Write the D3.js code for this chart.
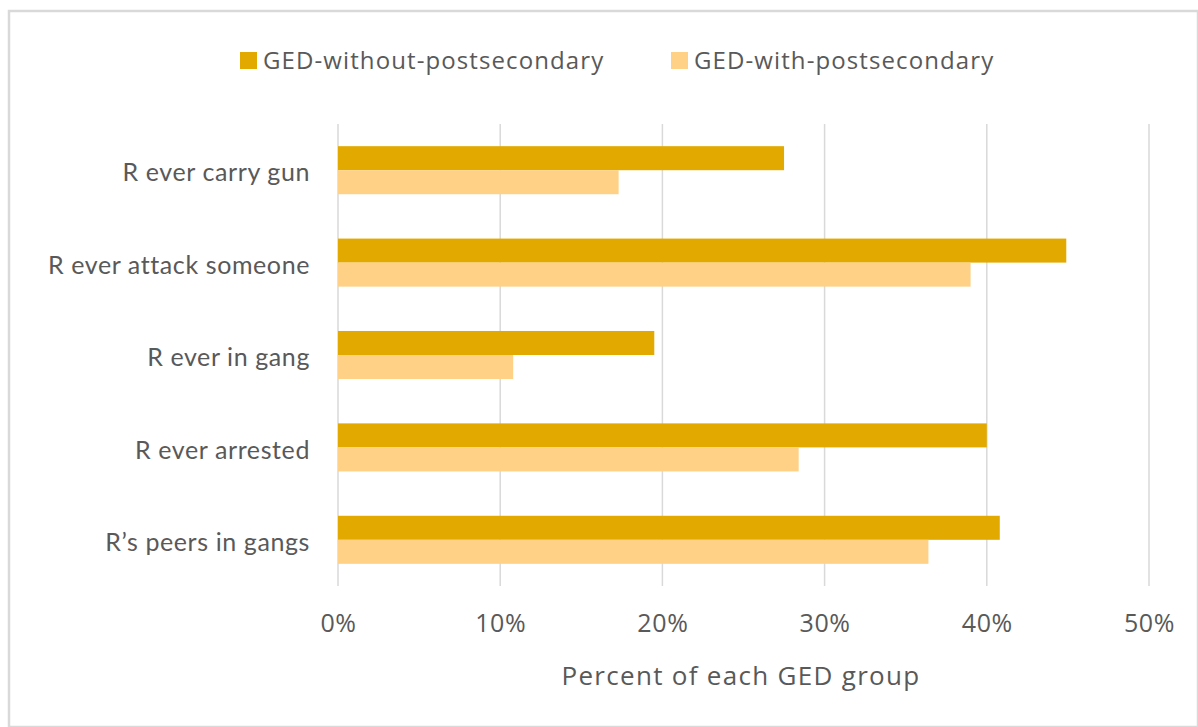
<!DOCTYPE html>
<html>
<head>
<meta charset="utf-8">
<script src="https://cdn.jsdelivr.net/npm/d3@7"></script>
<style>
  body { margin: 0; background: #fff; }
  svg { display: block; font-family: "Open Sans", "Liberation Sans", sans-serif; }
</style>
</head>
<body>
<div id="chart"></div>
<script>
var categories = ["R ever carry gun", "R ever attack someone", "R ever in gang", "R ever arrested", "R\u2019s peers in gangs"];
var seriesNames = ["GED-without-postsecondary", "GED-with-postsecondary"];
var withoutPost = [27.5, 44.9, 19.5, 40.0, 40.8];
var withPost = [17.3, 39.0, 10.8, 28.4, 36.4];
var xTicks = [0, 10, 20, 30, 40, 50];
var colors = ["#E2AA00", "#FFD186"];

var W = 1198, H = 727;
var margin = {top: 124, right: 49, bottom: 141, left: 338},
  width = W - margin.left - margin.right,
  height = H - margin.top - margin.bottom;

var svg = d3.select("#chart")
  .append("svg")
    .attr("width", W)
    .attr("height", H);

// outer border
svg.append("rect")
  .attr("x", 9).attr("y", 11)
  .attr("width", W - 9).attr("height", H - 11)
  .style("fill", "none")
  .style("stroke", "#d9d9d9")
  .style("stroke-width", 2.5);

var g = svg.append("g")
  .attr("transform", "translate(" + margin.left + "," + margin.top + ")");

var x = d3.scaleLinear()
  .domain([0, 50])
  .range([0, width]);

var y = d3.scaleBand()
  .domain(categories)
  .range([0, height])
  .paddingInner(0.48)
  .paddingOuter(0.24);

var ySub = d3.scaleBand()
  .domain(seriesNames)
  .range([0, y.bandwidth()]);

// gridlines
g.selectAll(".grid")
  .data(xTicks)
  .enter()
  .append("line")
  .attr("class", "grid")
  .attr("x1", function(d) { return x(d); })
  .attr("x2", function(d) { return x(d); })
  .attr("y1", 0)
  .attr("y2", height)
  .style("stroke", "#d9d9d9")
  .style("stroke-width", 1.5);

var rows = categories.map(function(c, i) {
  return {cat: c, values: [withoutPost[i], withPost[i]]};
});

var grp = g.selectAll(".grp")
  .data(rows)
  .enter()
  .append("g")
  .attr("transform", function(d) { return "translate(0," + y(d.cat) + ")"; });

grp.selectAll("rect")
  .data(function(d) { return d.values.map(function(v, j) { return {name: seriesNames[j], v: v, j: j}; }); })
  .enter()
  .append("rect")
  .attr("x", x(0))
  .attr("y", function(d) { return ySub(d.name); })
  .attr("width", function(d) { return x(d.v) - x(0); })
  .attr("height", ySub.bandwidth())
  .style("fill", function(d) { return colors[d.j]; });

// x axis labels
var xAxis = g.append("g")
  .attr("transform", "translate(0," + height + ")")
  .call(d3.axisBottom(x).tickValues(xTicks).tickSize(0).tickPadding(28)
    .tickFormat(function(d) { return d + "%"; }));
xAxis.select(".domain").remove();
xAxis.selectAll("text")
  .style("font-size", "25px")
  .style("letter-spacing", "0.6px")
  .style("font-family", "'Open Sans', sans-serif")
  .style("fill", "#595959");

// y axis labels (Lato: narrower, closer to the original Calibri)
var yAxis = g.append("g")
  .call(d3.axisLeft(y).tickSize(0).tickPadding(28));
yAxis.select(".domain").remove();
yAxis.selectAll("text")
  .attr("dy", "0.45em")
  .style("font-size", "25px")
  .style("letter-spacing", "0.6px")
  .style("font-family", "Lato, 'Open Sans', sans-serif")
  .style("fill", "#595959");

// axis title
svg.append("text")
  .attr("x", 741)
  .attr("y", 685)
  .style("text-anchor", "middle")
  .style("font-size", "26px")
  .style("letter-spacing", "1.3px")
  .style("fill", "#595959")
  .text("Percent of each GED group");

// legend
var legendX = [240, 671];
var leg = svg.selectAll(".legend")
  .data(seriesNames)
  .enter()
  .append("g")
  .attr("transform", function(d, i) { return "translate(" + legendX[i] + ",52)"; });
leg.append("rect")
  .attr("width", 17).attr("height", 17)
  .style("fill", function(d, i) { return colors[i]; });
leg.append("text")
  .attr("x", 23)
  .attr("y", 17)
  .style("font-size", "24px")
  .style("letter-spacing", "1.1px")
  .style("fill", "#595959")
  .text(function(d) { return d; });
</script>
</body>
</html>
